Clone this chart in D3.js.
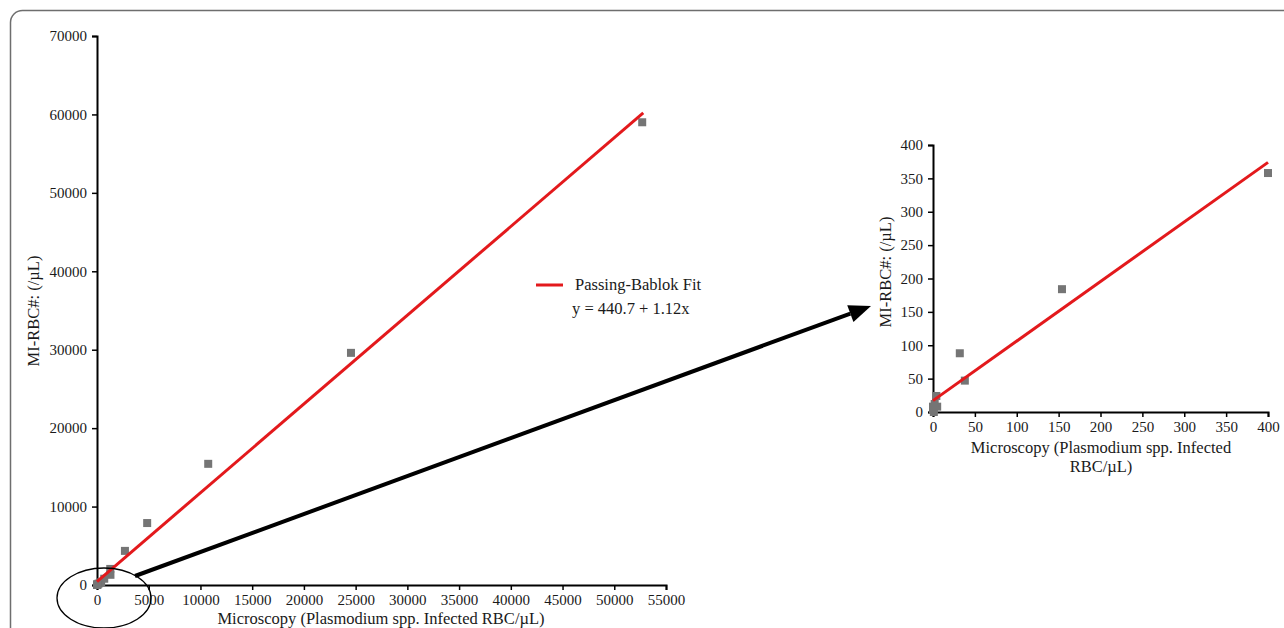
<!DOCTYPE html>
<html><head><meta charset="utf-8">
<script src="https://cdn.jsdelivr.net/npm/d3@7"></script>
<style>body{margin:0;background:#fff}svg{display:block;font-family:"Liberation Serif","Times New Roman",serif}</style>
</head><body><svg id="c" width="1284" height="628"></svg>
<script>
// Data (microscopy x, MI-RBC# y)
const pointsX = [52700, 24550, 10750, 4850, 2700, 1280, 1300, 700, 400, 154, 32, 38, 4, 5, 2, 1, 0, 0, 1];
const pointsY = [59000, 29600, 15450, 7900, 4350, 2050, 1300, 800, 358, 184, 88, 47, 24, 8, 12, 5, 3, 8, 0];
const fitMainX = [0, 52800];
const fitMainY = [440.7, 60200];
const fitZoomX = [0, 400];
const fitZoomY = [17, 374];
const mainXTicks = [0,5000,10000,15000,20000,25000,30000,35000,40000,45000,50000,55000];
const mainYTicks = [0,10000,20000,30000,40000,50000,60000,70000];
const zoomTicks = [0,50,100,150,200,250,300,350,400];
const legendLabel = "Passing-Bablok Fit";
const equationLabel = "y = 440.7 + 1.12x";
const xTitle = "Microscopy (Plasmodium spp. Infected RBC/µL)";
const xTitleZoom = ["Microscopy (Plasmodium spp. Infected", "RBC/µL)"];
const yTitle = "MI-RBC#: (/µL)";

const pts = pointsX.map((x,i)=>({x, y:pointsY[i]}));
const svg = d3.select("#c");
const TICK_FS = "15px", TITLE_FS = "16.5px";

// frame
svg.append("rect").attr("x",10.5).attr("y",10.5).attr("width",1400).attr("height",800)
  .attr("rx",12).attr("fill","none").attr("stroke","#6e6e6e").attr("stroke-width",1.5);

function styleAxis(g){
  g.select(".domain").attr("stroke","#000").attr("stroke-width",2);
  g.selectAll(".tick line").attr("stroke","#000").attr("stroke-width",1.5);
  g.selectAll(".tick text").attr("fill","#1a1a1a").style("font-size",TICK_FS).style("font-family","Liberation Serif");
}

// ---------- main chart ----------
const x = d3.scaleLinear().domain([0,55000]).range([97,666]);
const y = d3.scaleLinear().domain([0,70000]).range([585,36]);

svg.append("g").attr("transform","translate(0,585)")
  .call(d3.axisBottom(x).tickValues(mainXTicks).tickFormat(d3.format("d")).tickSizeOuter(0).tickSize(5).tickPadding(4))
  .call(styleAxis);
svg.append("g").attr("transform","translate(97,0)")
  .call(d3.axisLeft(y).tickValues(mainYTicks).tickFormat(d3.format("d")).tickSizeOuter(0).tickSize(5).tickPadding(5))
  .call(styleAxis);

svg.append("g").selectAll("rect").data(pts).join("rect")
  .attr("x",d=>x(d.x)-4).attr("y",d=>y(d.y)-4).attr("width",8).attr("height",8).attr("fill","#757575");

svg.append("line").attr("x1",x(fitMainX[0])).attr("y1",y(fitMainY[0])).attr("x2",x(fitMainX[1])).attr("y2",y(fitMainY[1]))
  .attr("stroke","#e3191c").attr("stroke-width",3);

svg.append("text").attr("x",381).attr("y",624).attr("text-anchor","middle").style("font-size",TITLE_FS).attr("fill","#1a1a1a").text(xTitle);
svg.append("text").attr("transform","translate(39,311) rotate(-90)").attr("text-anchor","middle").style("font-size",TITLE_FS).attr("fill","#1a1a1a").text(yTitle);

// legend
svg.append("line").attr("x1",536).attr("x2",563).attr("y1",285).attr("y2",285).attr("stroke","#e3191c").attr("stroke-width",3);
svg.append("text").attr("x",575).attr("y",290).style("font-size",TITLE_FS).attr("fill","#1a1a1a").text(legendLabel);
svg.append("text").attr("x",572).attr("y",314).style("font-size",TITLE_FS).attr("fill","#1a1a1a").text(equationLabel);

// ---------- zoom chart ----------
const zx = d3.scaleLinear().domain([0,400]).range([933,1268]);
const zy = d3.scaleLinear().domain([0,400]).range([412,145]);

svg.append("g").attr("transform","translate(0,412)")
  .call(d3.axisBottom(zx).tickValues(zoomTicks).tickSizeOuter(0).tickSize(5).tickPadding(4))
  .call(styleAxis);
svg.append("g").attr("transform","translate(933,0)")
  .call(d3.axisLeft(zy).tickValues(zoomTicks).tickSizeOuter(0).tickSize(5).tickPadding(5))
  .call(styleAxis);

svg.append("g").selectAll("rect").data(pts.filter(d=>d.x<=400 && d.y<=400)).join("rect")
  .attr("x",d=>zx(d.x)-4).attr("y",d=>zy(d.y)-4).attr("width",8).attr("height",8).attr("fill","#757575");

svg.append("line").attr("x1",zx(fitZoomX[0])).attr("y1",zy(fitZoomY[0])).attr("x2",zx(fitZoomX[1])).attr("y2",zy(fitZoomY[1]))
  .attr("stroke","#e3191c").attr("stroke-width",3);

svg.append("text").attr("x",1101).attr("y",453).attr("text-anchor","middle").style("font-size",TITLE_FS).attr("fill","#1a1a1a").text(xTitleZoom[0]);
svg.append("text").attr("x",1101).attr("y",472).attr("text-anchor","middle").style("font-size",TITLE_FS).attr("fill","#1a1a1a").text(xTitleZoom[1]);
svg.append("text").attr("transform","translate(891,272) rotate(-90)").attr("text-anchor","middle").style("font-size",TITLE_FS).attr("fill","#1a1a1a").text(yTitle);

// ---------- ellipse and arrow ----------
svg.append("ellipse").attr("cx",104).attr("cy",598).attr("rx",47).attr("ry",30)
  .attr("fill","none").attr("stroke","#000").attr("stroke-width",1.3);

const ax1 = 135, ay1 = 576, ax2 = 871, ay2 = 306;
const ang = Math.atan2(ay2-ay1, ax2-ax1);
const headLen = 22, headW = 9;
const bx = ax2 - headLen*Math.cos(ang), by = ay2 - headLen*Math.sin(ang);
svg.append("line").attr("x1",ax1).attr("y1",ay1).attr("x2",bx).attr("y2",by).attr("stroke","#000").attr("stroke-width",4);
svg.append("path").attr("d",d3.line()([
  [ax2,ay2],
  [bx + headW*Math.sin(ang), by - headW*Math.cos(ang)],
  [bx - headW*Math.sin(ang), by + headW*Math.cos(ang)]
])+"Z").attr("fill","#000");
</script></body></html>
